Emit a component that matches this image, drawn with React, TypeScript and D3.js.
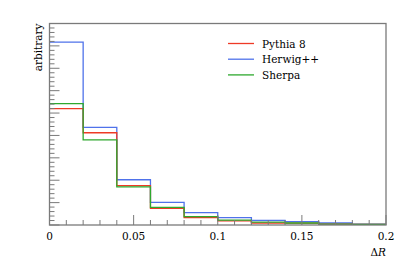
import * as d3 from "d3";
import { useRef, useEffect } from "react";

// bin edges in ΔR, heights in arbitrary units
const edges = [0, 0.02, 0.04, 0.06, 0.08, 0.1, 0.12, 0.14, 0.16, 0.18, 0.2];
const pythia = [5.2, 4.12, 1.76, 0.74, 0.33, 0.18, 0.09, 0.08, 0.04, 0.03];
const herwig = [8.17, 4.36, 2.02, 1.01, 0.55, 0.33, 0.21, 0.15, 0.09, 0.04];
const sherpa = [5.42, 3.8, 1.7, 0.79, 0.37, 0.22, 0.13, 0.09, 0.04, 0.03];
const xTicks = [0, 0.05, 0.1, 0.15, 0.2];
const seriesNames = ["Herwig++", "Pythia 8", "Sherpa"];
const legendOrder = ["Pythia 8", "Herwig++", "Sherpa"];
const colors = { "Pythia 8": "#ee3a26", "Herwig++": "#4f72ea", Sherpa: "#2ea82e" };

const W = 399;
const H = 259;
const font = "'DejaVu Serif', serif";

export default function App() {
	const ref = useRef<SVGSVGElement>(null);

	useEffect(() => {
		const svg = d3.select(ref.current);
		svg.selectAll("*").remove();

		const left = 49.5, right = 386, top = 23.5, bottom = 225;
		const x = d3.scaleLinear().domain([0, 0.2]).range([left, right]);
		const y = d3.scaleLinear().domain([0, 9]).range([bottom, top]);

		const data = { "Pythia 8": pythia, "Herwig++": herwig, Sherpa: sherpa };
		const line = d3
			.line<number[]>()
			.x(d => x(d[0]))
			.y(d => y(d[1]))
			.curve(d3.curveStepAfter);

		seriesNames.forEach(name => {
			const vals = data[name];
			const pts = vals.map((v, i) => [edges[i], v]);
			pts.push([edges[edges.length - 1], vals[vals.length - 1]]);
			svg
				.append("path")
				.attr("d", line(pts))
				.attr("fill", "none")
				.attr("stroke", colors[name])
				.attr("stroke-width", 1.3);
		});

		const g = svg.append("g").attr("stroke", "#7a7a7a");

		// y ticks (inside)
		d3.range(0, 46).forEach(i => {
			const v = i * 0.2;
			const major = i % 5 === 0;
			g.append("line")
				.attr("x1", left)
				.attr("x2", left + (major ? 10 : 5))
				.attr("y1", y(v))
				.attr("y2", y(v))
				.attr("stroke-width", 1);
		});

		// x ticks (inside)
		d3.range(0, 21).forEach(i => {
			const v = i * 0.01;
			const major = i % 5 === 0;
			g.append("line")
				.attr("x1", x(v))
				.attr("x2", x(v))
				.attr("y1", bottom)
				.attr("y2", bottom - (major ? 10 : 5))
				.attr("stroke-width", 1);
		});

		svg
			.append("rect")
			.attr("x", left)
			.attr("y", top)
			.attr("width", right - left)
			.attr("height", bottom - top)
			.attr("fill", "none")
			.attr("stroke", "#7a7a7a")
			.attr("stroke-width", 1.3);

		svg
			.selectAll(".xl")
			.data(xTicks)
			.enter()
			.append("text")
			.attr("x", d => x(d))
			.attr("y", 240)
			.attr("text-anchor", "middle")
			.attr("font-family", font)
			.attr("font-size", 10.5)
			.text(d => (d === 0 ? "0" : String(d)));

		const lab = svg
			.append("text")
			.attr("x", right)
			.attr("y", 256)
			.attr("text-anchor", "end")
			.attr("font-family", font)
			.attr("font-size", 10.5);
		lab.append("tspan").text("Δ");
		lab.append("tspan").attr("font-style", "italic").text("R");

		svg
			.append("text")
			.attr("transform", `translate(42, ${top}) rotate(-90)`)
			.attr("text-anchor", "end")
			.attr("font-family", font)
			.attr("font-size", 10.5)
			.text("arbitrary");

		legendOrder.forEach((name, i) => {
			const ly = 43.5 + i * 15.7;
			svg
				.append("line")
				.attr("x1", 228)
				.attr("x2", 254)
				.attr("y1", ly)
				.attr("y2", ly)
				.attr("stroke", colors[name])
				.attr("stroke-width", 1.3);
			svg
				.append("text")
				.attr("x", 262)
				.attr("y", ly + 4)
				.attr("font-family", font)
				.attr("font-size", 10.5)
				.text(name);
		});
	}, []);

	return <svg ref={ref} width={W} height={H} style={{ position: "absolute", left: 0, top: 0 }} />;
}
